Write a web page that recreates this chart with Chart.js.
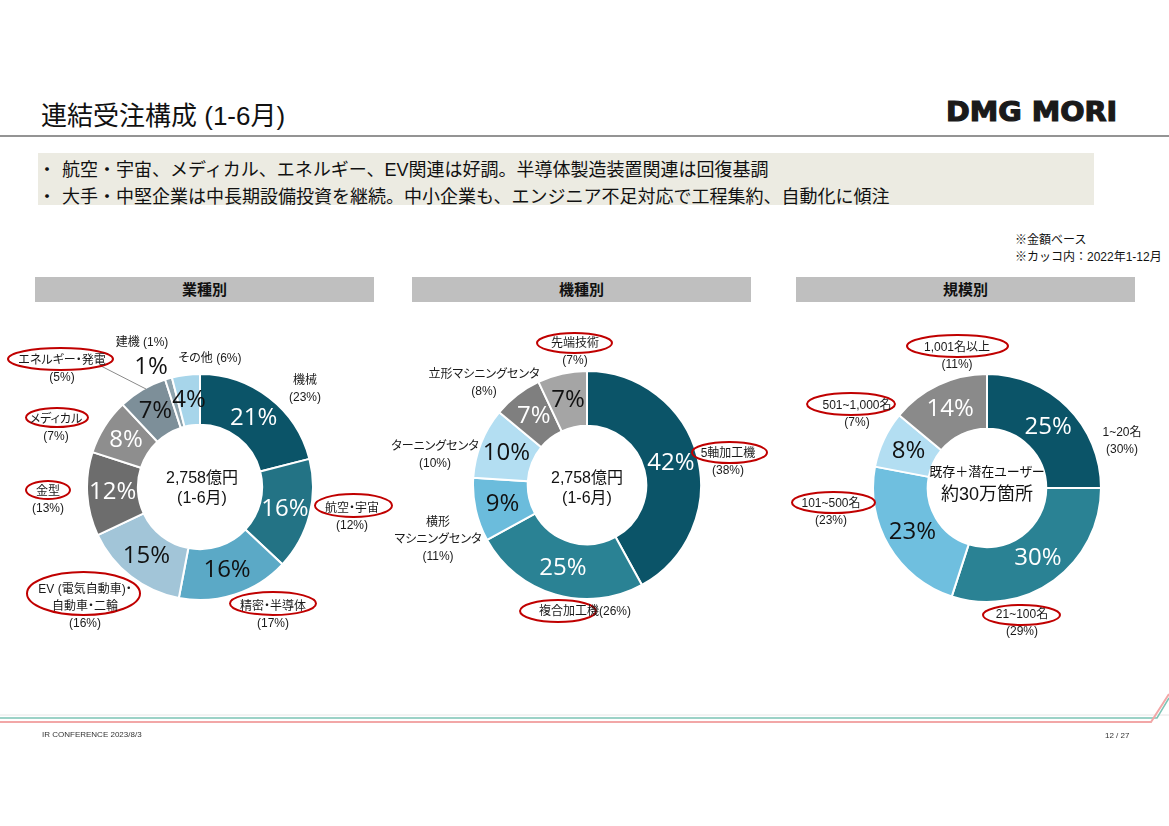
<!DOCTYPE html>
<html lang="ja">
<head>
<meta charset="utf-8">
<script src="https://cdn.jsdelivr.net/npm/chart.js@4.4.0/dist/chart.umd.min.js"></script>
<style>
  body { margin: 0; width: 1169px; height: 826px; background: #fff; position: relative; overflow: hidden;
         font-family: "Liberation Sans", "Noto Sans CJK JP", sans-serif; color: #1a1a1a; }
  .abs { position: absolute; white-space: nowrap; }
  .title { left: 41px; top: 95px; font-size: 26px; color: #111; }
  .logo { left: 946px; top: 96px; font-size: 27px; font-weight: bold; transform: scaleX(1.06); transform-origin: left; color: #1a1a1a; font-family: "DejaVu Sans", sans-serif; -webkit-text-stroke: 1.2px #1a1a1a; }
  .box { left: 38px; top: 153px; width: 1056px; height: 52px; background: #ecebe2; }
  .bullet { font-size: 18px; color: #111; }
  .note { font-size: 12px; color: #111; line-height: 17px; }
  .hdr { top: 277px; height: 25px; background: #bfbfbf; font-weight: bold; font-size: 15px; text-align: center; line-height: 25px; color: #111; }
  .lbl { font-size: 12px; text-align: center; line-height: 17px; transform: translate(-50%, -50%); color: #1a1a1a; font-feature-settings: "palt" 1; }
  .ctr { font-size: 16px; text-align: center; line-height: 20px; transform: translate(-50%, -50%); color: #111; font-feature-settings: "palt" 1; }
  .big { font-family: "Open Sans", sans-serif; font-size: 24px; transform: translate(-50%, -50%); color: #111; }
  .chart { position: absolute; }
  .foot { font-size: 8px; color: #333; }
  svg { position: absolute; left: 0; top: 0; }
</style>
</head>
<body>
<div class="abs title">連結受注構成 (1-6月)</div>
<div class="abs logo">DMG MORI</div>
<svg width="1169" height="826">
  <line x1="0" y1="136" x2="1169" y2="136" stroke="#707070" stroke-width="1.5"/>
  <line x1="0" y1="715" x2="1169" y2="715" stroke="#e6e6e6" stroke-width="1"/>
  <polyline points="0,718 1157,718 1169,698" fill="none" stroke="#7cc4b5" stroke-width="1.5"/>
  <polyline points="0,722 1151,722 1169,694" fill="none" stroke="#f2a7a7" stroke-width="2"/>
</svg>
<div class="abs box"></div>
<div class="abs bullet" style="left:38px;top:155px">・</div>
<div class="abs bullet" style="left:62px;top:155px">航空・宇宙、メディカル、エネルギー、EV関連は好調。半導体製造装置関連は回復基調</div>
<div class="abs bullet" style="left:38px;top:182px">・</div>
<div class="abs bullet" style="left:62px;top:182px">大手・中堅企業は中長期設備投資を継続。中小企業も、エンジニア不足対応で工程集約、自動化に傾注</div>
<div class="abs note" style="left:1015px;top:232px">※金額ベース<br>※カッコ内：2022年1-12月</div>

<div class="abs hdr" style="left:35px;width:339px">業種別</div>
<div class="abs hdr" style="left:412px;width:339px">機種別</div>
<div class="abs hdr" style="left:796px;width:339px">規模別</div>

<div class="chart" style="left:86px;top:373px;width:228px;height:228px"><canvas id="c1"></canvas></div>
<div class="chart" style="left:472px;top:370px;width:230px;height:230px"><canvas id="c2"></canvas></div>
<div class="chart" style="left:872px;top:373px;width:230px;height:230px"><canvas id="c3"></canvas></div>

<svg width="1169" height="826" id="marks">
  <line x1="101" y1="366" x2="146" y2="389" stroke="#8a8a8a" stroke-width="1"/>
</svg>

<div id="labels"></div>

<div class="abs ctr" style="left:202px;top:488px">2,758億円<br>(1-6月)</div>
<div class="abs ctr" style="left:587px;top:488px">2,758億円<br>(1-6月)</div>
<div class="abs ctr" style="left:987px;top:483px"><span style="font-size:13px">既存＋潜在ユーザー</span><br><span style="font-size:18px;line-height:24px">約30万箇所</span></div>
<div class="abs big" style="left:151px;top:364px">1%</div>

<div class="abs foot" style="left:42px;top:730px">IR CONFERENCE 2023/8/3</div>
<div class="abs foot" style="left:1105px;top:731px">12 / 27</div>

<script>
// 業種別
const industryLabels = ["機械", "航空・宇宙", "精密・半導体", "EV (電気自動車)・自動車・二輪", "金型", "メディカル", "エネルギー・発電", "建機", "その他"];
const industryValues = [21, 16, 16, 15, 12, 8, 7, 1, 4];
const industryPrev = [23, 12, 17, 16, 13, 7, 5, 1, 6];
// 機種別
const machineLabels = ["5軸加工機", "複合加工機", "横形マシニングセンタ", "ターニングセンタ", "立形マシニングセンタ", "先端技術"];
const machineValues = [42, 25, 9, 10, 7, 7];
const machinePrev = [38, 26, 11, 10, 8, 7];
// 規模別
const sizeLabels = ["1~20名", "21~100名", "101~500名", "501~1,000名", "1,001名以上"];
const sizeValues = [25, 30, 23, 8, 14];
const sizePrev = [30, 29, 23, 7, 11];

const industryColors = ["#0b5468", "#237385", "#5ba9c6", "#a2c5d8", "#6d6d6d", "#8e8e8e", "#7d8f99", "#8ea3ad", "#a7d5ea"];
const industryText = ["#fff", "#fff", "#111", "#111", "#fff", "#fff", "#111", null, "#111"];
const machineColors = ["#0b5468", "#2a8294", "#6bbcdc", "#b3def2", "#7f7f7f", "#a5a5a5"];
const machineText = ["#fff", "#fff", "#111", "#111", "#fff", "#111"];
const sizeColors = ["#0b5468", "#2a8294", "#6fbfdf", "#b3def2", "#8a8a8a"];
const sizeText = ["#fff", "#fff", "#111", "#111", "#fff"];

/* percent labels drawn in the middle of each ring segment */
const pctLabels = {
  id: "pctLabels",
  afterDatasetsDraw(chart, args, opts) {
    const ctx = chart.ctx;
    const meta = chart.getDatasetMeta(0);
    const data = chart.data.datasets[0].data;
    ctx.save();
    ctx.font = "24px 'Open Sans'";
    ctx.textAlign = "center";
    ctx.textBaseline = "middle";
    meta.data.forEach((arc, i) => {
      if (!opts.colors[i]) return;
      const p = arc.getProps(["x", "y", "startAngle", "endAngle", "innerRadius", "outerRadius"], true);
      const a = (p.startAngle + p.endAngle) / 2;
      const r = (p.innerRadius + p.outerRadius) / 2;
      ctx.fillStyle = opts.colors[i];
      ctx.fillText(data[i] + "%", p.x + Math.cos(a) * r, p.y + Math.sin(a) * r);
    });
    ctx.restore();
  }
};

function donut(id, labels, values, colors, textColors, cutout) {
  return new Chart(document.getElementById(id), {
    type: "doughnut",
    data: {
      labels: labels,
      datasets: [{ data: values, backgroundColor: colors, borderColor: "#fff", borderWidth: 2 }]
    },
    options: {
      responsive: true,
      maintainAspectRatio: false,
      animation: false,
      cutout: cutout,
      layout: { padding: 0 },
      plugins: { legend: { display: false }, tooltip: { enabled: false }, pctLabels: { colors: textColors } }
    },
    plugins: [pctLabels]
  });
}

donut("c1", industryLabels, industryValues, industryColors, industryText, "55%");
donut("c2", machineLabels, machineValues, machineColors, machineText, "52%");
donut("c3", sizeLabels, sizeValues, sizeColors, sizeText, "52%");

/* outside name labels, (2022 share) below; red ring marks highlighted ones */
const outside = [
  // [name, prev, x, y, ring]
  [["機械"], industryPrev[0], 305, 389, false],
  [["航空・宇宙"], industryPrev[1], 352, 517, [315, 494, 392, 517]],
  [["精密・半導体"], industryPrev[2], 273, 615, [230, 592, 316, 615]],
  [["EV (電気自動車)・", "自動車・二輪"], industryPrev[3], 85, 606, [27, 572, 140, 615]],
  [["金型"], industryPrev[4], 48, 500, [26, 481, 70, 499]],
  [["メディカル"], industryPrev[5], 56, 428, [26, 408, 88, 427]],
  [["エネルギー・発電"], industryPrev[6], 62, 369, [8, 348, 113, 370]],
  [["建機 (" + industryPrev[7] + "%)"], null, 142, 342, false],
  [["その他 (" + industryPrev[8] + "%)"], null, 210, 358, false],
  [["5軸加工機"], machinePrev[0], 728, 462, [692, 442, 767, 463]],
  [["横形", "マシニングセンタ"], machinePrev[2], 438, 539, false],
  [["ターニングセンタ"], machinePrev[3], 435, 455, false],
  [["立形マシニングセンタ"], machinePrev[4], 484, 383, false],
  [["先端技術"], machinePrev[5], 575, 352, [537, 333, 612, 353]],
  [["1~20名"], sizePrev[0], 1122, 441, false],
  [["21~100名"], sizePrev[1], 1022, 623, [983, 605, 1060, 625]],
  [["101~500名"], sizePrev[2], 831, 512, [792, 492, 875, 513]],
  [["501~1,000名"], sizePrev[3], 857, 414, [807, 393, 895, 415]],
  [["1,001名以上"], sizePrev[4], 957, 356, [907, 335, 1008, 357]]
];
const host = document.getElementById("labels");
const marks = document.getElementById("marks");
outside.forEach(([lines, prev, x, y, ring]) => {
  const d = document.createElement("div");
  d.className = "abs lbl";
  d.style.left = x + "px";
  d.style.top = y + "px";
  d.innerHTML = lines.join("<br>") + (prev !== null ? "<br>(" + prev + "%)" : "");
  host.appendChild(d);
  if (ring) {
    const e = document.createElementNS("http://www.w3.org/2000/svg", "ellipse");
    e.setAttribute("cx", (ring[0] + ring[2]) / 2);
    e.setAttribute("cy", (ring[1] + ring[3]) / 2);
    e.setAttribute("rx", (ring[2] - ring[0]) / 2);
    e.setAttribute("ry", (ring[3] - ring[1]) / 2);
    e.setAttribute("fill", "none");
    e.setAttribute("stroke", "#c00000");
    e.setAttribute("stroke-width", "2");
    marks.appendChild(e);
  }
});
// 複合加工機 sits on one line with its share
const f = document.createElement("div");
f.className = "abs lbl";
f.style.left = "585px"; f.style.top = "611px";
f.textContent = "複合加工機(" + machinePrev[1] + "%)";
host.appendChild(f);
const fr = document.createElementNS("http://www.w3.org/2000/svg", "ellipse");
fr.setAttribute("cx", 558); fr.setAttribute("cy", 611); fr.setAttribute("rx", 38); fr.setAttribute("ry", 11);
fr.setAttribute("fill", "none"); fr.setAttribute("stroke", "#c00000"); fr.setAttribute("stroke-width", "2");
marks.appendChild(fr);
</script>
</body>
</html>
